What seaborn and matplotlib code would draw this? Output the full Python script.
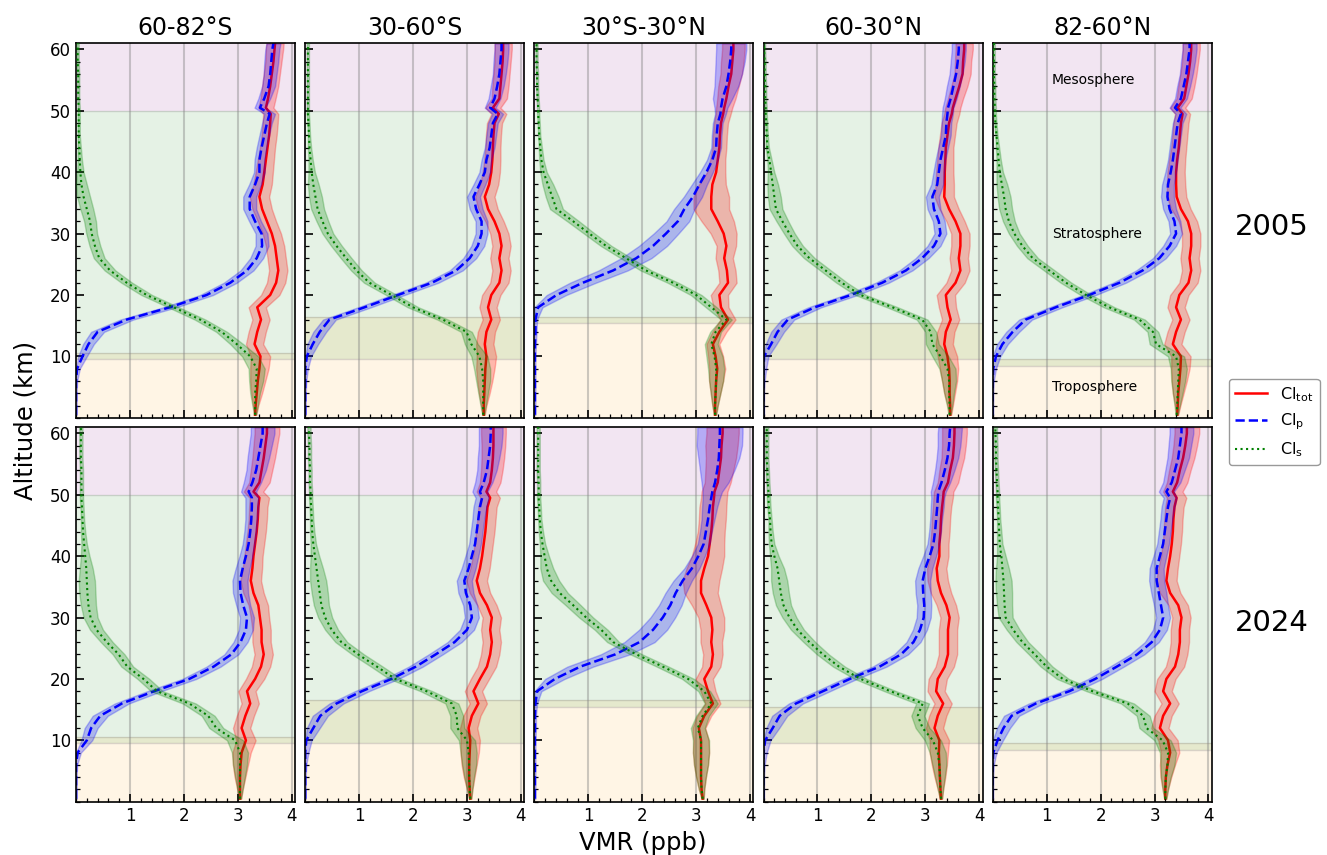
import numpy as np
import matplotlib
matplotlib.use("Agg")
import matplotlib.pyplot as plt
import seaborn as sns
from matplotlib.lines import Line2D
from matplotlib.ticker import MultipleLocator
from matplotlib.colors import to_rgba

plt.rcParams['font.family'] = ['DejaVu Sans']

# ---------------- data ----------------
altitude = [0.5, 2, 4, 6, 8, 10, 12, 14, 16, 18, 20, 22, 24, 26, 28, 30, 32, 34,
            36, 38, 40, 42, 44, 46, 48, 49.5, 50.5, 52, 54, 56, 58, 60, 61]

regions = ['60-82°S', '30-60°S', '30°S-30°N', '60-30°N', '82-60°N']
years = ['2005', '2024']
tropopause_low = [9.5, 9.5, 15.5, 9.5, 8.5]
tropopause_high = [10.5, 16.5, 16.5, 15.5, 9.5]
layer_names = ['Mesosphere', 'Stratosphere', 'Troposphere']
layer_alt = [55, 30, 5]

# 2005
clp_2005_s82 = [0, 0, 0, 0, 0.02, 0.12, 0.23, 0.40, 0.94, 1.74, 2.42, 2.86, 3.17, 3.35, 3.45, 3.44, 3.32, 3.22, 3.22, 3.32, 3.40, 3.40, 3.44, 3.49, 3.54, 3.59, 3.41, 3.49, 3.57, 3.60, 3.62, 3.64, 3.66]
cltot_2005_s82 = [3.32, 3.33, 3.35, 3.37, 3.40, 3.42, 3.31, 3.36, 3.43, 3.36, 3.60, 3.71, 3.75, 3.72, 3.69, 3.63, 3.54, 3.45, 3.40, 3.46, 3.49, 3.52, 3.55, 3.58, 3.60, 3.61, 3.52, 3.56, 3.60, 3.63, 3.66, 3.68, 3.69]
cls_2005_s82 = [3.32, 3.32, 3.32, 3.34, 3.35, 3.23, 2.98, 2.70, 2.30, 1.81, 1.31, 0.94, 0.63, 0.43, 0.35, 0.29, 0.26, 0.20, 0.14, 0.10, 0.08, 0.07, 0.06, 0.05, 0.05, 0.05, 0.05, 0.04, 0.04, 0.04, 0.03, 0.03, 0.03]

clp_2005_s60 = [0, 0, 0, 0, 0, 0.03, 0.14, 0.27, 0.45, 1.10, 1.72, 2.35, 2.80, 3.05, 3.20, 3.27, 3.27, 3.17, 3.12, 3.23, 3.33, 3.36, 3.42, 3.45, 3.48, 3.57, 3.43, 3.51, 3.56, 3.60, 3.62, 3.64, 3.64]
cltot_2005_s60 = [3.31, 3.31, 3.32, 3.33, 3.34, 3.36, 3.33, 3.36, 3.45, 3.39, 3.45, 3.60, 3.64, 3.60, 3.64, 3.60, 3.51, 3.39, 3.33, 3.41, 3.45, 3.47, 3.48, 3.49, 3.51, 3.59, 3.48, 3.60, 3.62, 3.64, 3.66, 3.67, 3.67]
cls_2005_s60 = [3.30, 3.30, 3.30, 3.30, 3.28, 3.23, 3.08, 2.99, 2.55, 2.00, 1.60, 1.19, 0.95, 0.76, 0.58, 0.42, 0.32, 0.23, 0.19, 0.15, 0.12, 0.10, 0.08, 0.07, 0.06, 0.05, 0.05, 0.05, 0.05, 0.05, 0.05, 0.05, 0.05]

clp_2005_eq = [0.01, 0.01, 0.01, 0.01, 0.01, 0.01, 0.01, 0.02, 0.02, 0.07, 0.41, 0.90, 1.46, 1.89, 2.20, 2.44, 2.66, 2.78, 2.94, 3.06, 3.19, 3.30, 3.37, 3.38, 3.40, 3.45, 3.46, 3.49, 3.56, 3.60, 3.63, 3.65, 3.65]
cltot_2005_eq = [3.35, 3.35, 3.36, 3.37, 3.39, 3.36, 3.31, 3.43, 3.59, 3.46, 3.43, 3.59, 3.57, 3.52, 3.56, 3.51, 3.40, 3.28, 3.28, 3.30, 3.37, 3.40, 3.43, 3.44, 3.46, 3.50, 3.52, 3.56, 3.60, 3.65, 3.67, 3.69, 3.69]
cls_2005_eq = [3.35, 3.35, 3.36, 3.37, 3.37, 3.34, 3.28, 3.36, 3.56, 3.28, 3.00, 2.57, 2.07, 1.70, 1.33, 1.02, 0.72, 0.41, 0.33, 0.25, 0.17, 0.13, 0.11, 0.09, 0.08, 0.07, 0.07, 0.06, 0.05, 0.05, 0.04, 0.04, 0.04]

clp_2005_n60 = [0, 0, 0, 0, 0, 0.01, 0.14, 0.26, 0.45, 0.95, 1.62, 2.20, 2.64, 2.94, 3.16, 3.28, 3.25, 3.16, 3.13, 3.22, 3.25, 3.28, 3.33, 3.38, 3.39, 3.41, 3.42, 3.47, 3.52, 3.57, 3.60, 3.62, 3.62]
cltot_2005_n60 = [3.46, 3.46, 3.45, 3.45, 3.44, 3.41, 3.35, 3.38, 3.47, 3.41, 3.38, 3.56, 3.65, 3.62, 3.65, 3.65, 3.56, 3.44, 3.35, 3.36, 3.36, 3.37, 3.38, 3.41, 3.44, 3.49, 3.51, 3.56, 3.63, 3.69, 3.70, 3.72, 3.72]
cls_2005_n60 = [3.45, 3.45, 3.44, 3.44, 3.41, 3.28, 3.13, 3.10, 2.94, 2.39, 1.80, 1.45, 1.15, 0.85, 0.63, 0.48, 0.35, 0.23, 0.20, 0.17, 0.14, 0.11, 0.07, 0.06, 0.05, 0.04, 0.04, 0.03, 0.03, 0.02, 0.02, 0.01, 0.01]

clp_2005_n82 = [0, 0, 0, 0, 0.01, 0.06, 0.18, 0.37, 0.61, 1.17, 1.79, 2.35, 2.78, 3.09, 3.28, 3.40, 3.37, 3.28, 3.24, 3.25, 3.30, 3.34, 3.37, 3.40, 3.43, 3.49, 3.38, 3.49, 3.54, 3.59, 3.62, 3.65, 3.65]
cltot_2005_n82 = [3.42, 3.43, 3.44, 3.46, 3.48, 3.49, 3.34, 3.40, 3.49, 3.40, 3.46, 3.63, 3.68, 3.65, 3.68, 3.68, 3.62, 3.49, 3.41, 3.40, 3.40, 3.42, 3.45, 3.47, 3.49, 3.52, 3.43, 3.55, 3.59, 3.63, 3.66, 3.68, 3.68]
cls_2005_n82 = [3.41, 3.42, 3.43, 3.44, 3.45, 3.40, 3.03, 2.97, 2.72, 2.16, 1.73, 1.36, 1.05, 0.74, 0.55, 0.40, 0.30, 0.24, 0.21, 0.17, 0.13, 0.11, 0.09, 0.07, 0.05, 0.04, 0.04, 0.03, 0.03, 0.02, 0.02, 0.02, 0.02]

# 2024
clp_2024_s82 = [0, 0, 0, 0, 0.03, 0.20, 0.28, 0.45, 0.85, 1.45, 2.10, 2.55, 2.88, 3.05, 3.15, 3.17, 3.10, 3.05, 3.04, 3.09, 3.15, 3.20, 3.23, 3.25, 3.26, 3.26, 3.20, 3.27, 3.34, 3.38, 3.42, 3.46, 3.46]
cltot_2024_s82 = [3.04, 3.04, 3.04, 3.05, 3.07, 3.15, 3.07, 3.14, 3.23, 3.17, 3.32, 3.43, 3.48, 3.44, 3.44, 3.41, 3.38, 3.29, 3.24, 3.27, 3.29, 3.32, 3.35, 3.37, 3.38, 3.40, 3.29, 3.40, 3.44, 3.48, 3.51, 3.54, 3.54]
cls_2024_s82 = [3.04, 3.04, 3.04, 3.04, 3.04, 2.95, 2.60, 2.45, 2.10, 1.50, 1.25, 0.95, 0.79, 0.57, 0.38, 0.27, 0.23, 0.21, 0.20, 0.19, 0.17, 0.15, 0.13, 0.12, 0.11, 0.10, 0.10, 0.10, 0.10, 0.09, 0.09, 0.09, 0.09]

clp_2024_s60 = [0, 0, 0, 0, 0, 0.02, 0.15, 0.28, 0.58, 1.05, 1.60, 2.05, 2.42, 2.77, 3.00, 3.09, 3.06, 2.98, 2.95, 3.03, 3.09, 3.15, 3.18, 3.21, 3.24, 3.28, 3.24, 3.31, 3.37, 3.40, 3.43, 3.44, 3.44]
cltot_2024_s60 = [3.06, 3.05, 3.04, 3.04, 3.05, 3.06, 3.03, 3.09, 3.21, 3.12, 3.24, 3.37, 3.43, 3.46, 3.43, 3.46, 3.37, 3.24, 3.18, 3.24, 3.28, 3.31, 3.34, 3.36, 3.38, 3.43, 3.36, 3.43, 3.46, 3.48, 3.49, 3.49, 3.49]
cls_2024_s60 = [3.06, 3.05, 3.04, 3.04, 3.03, 3.00, 2.82, 2.81, 2.72, 2.25, 1.67, 1.33, 0.98, 0.67, 0.49, 0.37, 0.30, 0.27, 0.24, 0.21, 0.18, 0.15, 0.13, 0.12, 0.11, 0.10, 0.10, 0.09, 0.09, 0.08, 0.08, 0.07, 0.07]

clp_2024_eq = [0.01, 0.01, 0.01, 0.01, 0.01, 0.01, 0.01, 0.01, 0.02, 0.05, 0.38, 0.85, 1.50, 1.95, 2.20, 2.38, 2.52, 2.62, 2.75, 2.92, 3.04, 3.14, 3.18, 3.22, 3.25, 3.28, 3.30, 3.35, 3.39, 3.42, 3.43, 3.44, 3.44]
cltot_2024_eq = [3.12, 3.10, 3.09, 3.09, 3.09, 3.09, 3.05, 3.15, 3.31, 3.22, 3.15, 3.28, 3.31, 3.28, 3.30, 3.28, 3.19, 3.09, 3.09, 3.15, 3.22, 3.25, 3.28, 3.30, 3.31, 3.33, 3.34, 3.40, 3.43, 3.46, 3.47, 3.49, 3.49]
cls_2024_eq = [3.12, 3.10, 3.09, 3.09, 3.09, 3.09, 3.03, 3.12, 3.28, 3.15, 2.85, 2.38, 1.89, 1.46, 1.24, 0.96, 0.72, 0.47, 0.31, 0.23, 0.19, 0.15, 0.12, 0.10, 0.09, 0.08, 0.08, 0.08, 0.07, 0.07, 0.07, 0.07, 0.07]

clp_2024_n60 = [0, 0, 0, 0, 0, 0.03, 0.17, 0.30, 0.60, 1.10, 1.60, 2.15, 2.55, 2.78, 2.90, 2.97, 2.98, 2.96, 2.95, 3.00, 3.08, 3.15, 3.18, 3.20, 3.22, 3.23, 3.24, 3.30, 3.36, 3.41, 3.44, 3.45, 3.46]
cltot_2024_n60 = [3.29, 3.28, 3.27, 3.26, 3.25, 3.26, 3.17, 3.23, 3.33, 3.20, 3.23, 3.36, 3.42, 3.42, 3.42, 3.45, 3.39, 3.29, 3.23, 3.21, 3.26, 3.26, 3.28, 3.29, 3.31, 3.33, 3.34, 3.42, 3.46, 3.51, 3.53, 3.54, 3.54]
cls_2024_n60 = [3.29, 3.28, 3.27, 3.26, 3.23, 3.14, 2.95, 2.86, 2.95, 2.35, 1.80, 1.40, 1.10, 0.85, 0.63, 0.48, 0.37, 0.32, 0.29, 0.26, 0.20, 0.15, 0.13, 0.12, 0.10, 0.09, 0.09, 0.08, 0.07, 0.06, 0.06, 0.06, 0.06]

clp_2024_n82 = [0, 0, 0, 0, 0.01, 0.09, 0.20, 0.35, 0.80, 1.42, 1.90, 2.30, 2.68, 2.95, 3.10, 3.16, 3.12, 3.08, 3.04, 3.04, 3.10, 3.16, 3.19, 3.22, 3.25, 3.29, 3.22, 3.32, 3.38, 3.44, 3.47, 3.50, 3.50]
cltot_2024_n82 = [3.20, 3.20, 3.21, 3.24, 3.29, 3.25, 3.10, 3.16, 3.29, 3.16, 3.22, 3.38, 3.44, 3.47, 3.47, 3.50, 3.44, 3.29, 3.22, 3.25, 3.29, 3.32, 3.34, 3.35, 3.37, 3.41, 3.34, 3.42, 3.47, 3.53, 3.57, 3.60, 3.60]
cls_2024_n82 = [3.20, 3.20, 3.21, 3.24, 3.25, 3.15, 2.85, 2.79, 2.50, 1.85, 1.30, 1.00, 0.78, 0.55, 0.38, 0.24, 0.22, 0.21, 0.20, 0.18, 0.16, 0.13, 0.12, 0.11, 0.10, 0.09, 0.09, 0.08, 0.07, 0.06, 0.06, 0.05, 0.05]

# uncertainty half-widths (ppb)
err_tot_ext_2005 = [0.02, 0.05, 0.10, 0.14, 0.17, 0.18, 0.16, 0.16, 0.16, 0.16, 0.17, 0.17, 0.17, 0.17, 0.17, 0.17, 0.17, 0.18, 0.18, 0.17, 0.16, 0.15, 0.14, 0.14, 0.14, 0.14, 0.14, 0.14, 0.15, 0.15, 0.15, 0.16, 0.16]
err_tot_ext_2024 = [0.02, 0.05, 0.10, 0.14, 0.17, 0.18, 0.16, 0.16, 0.16, 0.16, 0.17, 0.17, 0.17, 0.17, 0.17, 0.17, 0.18, 0.19, 0.19, 0.18, 0.17, 0.17, 0.17, 0.17, 0.17, 0.18, 0.18, 0.19, 0.20, 0.21, 0.22, 0.23, 0.23]
err_tot_trop_2005 = [0.02, 0.05, 0.09, 0.13, 0.15, 0.14, 0.12, 0.13, 0.14, 0.14, 0.16, 0.16, 0.16, 0.16, 0.18, 0.24, 0.30, 0.33, 0.33, 0.25, 0.17, 0.14, 0.13, 0.13, 0.13, 0.14, 0.15, 0.17, 0.19, 0.20, 0.21, 0.21, 0.21]
err_tot_trop_2024 = [0.02, 0.05, 0.09, 0.13, 0.15, 0.14, 0.12, 0.13, 0.14, 0.14, 0.16, 0.17, 0.18, 0.20, 0.22, 0.24, 0.27, 0.31, 0.34, 0.33, 0.30, 0.27, 0.25, 0.25, 0.25, 0.24, 0.24, 0.24, 0.26, 0.28, 0.30, 0.30, 0.30]
err_p_ext_2005 = [0.01, 0.01, 0.01, 0.02, 0.05, 0.08, 0.10, 0.12, 0.12, 0.12, 0.12, 0.12, 0.12, 0.12, 0.12, 0.11, 0.11, 0.12, 0.12, 0.11, 0.10, 0.09, 0.09, 0.09, 0.09, 0.10, 0.10, 0.11, 0.12, 0.12, 0.13, 0.13, 0.13]
err_p_ext_2024 = [0.01, 0.01, 0.01, 0.02, 0.06, 0.10, 0.12, 0.14, 0.13, 0.13, 0.13, 0.13, 0.13, 0.13, 0.13, 0.13, 0.13, 0.14, 0.14, 0.13, 0.12, 0.11, 0.11, 0.11, 0.12, 0.12, 0.14, 0.16, 0.18, 0.20, 0.21, 0.22, 0.22]
err_p_trop_2005 = [0.01, 0.01, 0.01, 0.01, 0.01, 0.01, 0.02, 0.02, 0.03, 0.08, 0.18, 0.24, 0.27, 0.28, 0.26, 0.23, 0.21, 0.19, 0.17, 0.14, 0.12, 0.10, 0.09, 0.09, 0.09, 0.10, 0.12, 0.18, 0.22, 0.25, 0.27, 0.28, 0.28]
err_p_trop_2024 = [0.01, 0.01, 0.01, 0.01, 0.01, 0.01, 0.02, 0.02, 0.03, 0.08, 0.18, 0.24, 0.27, 0.28, 0.26, 0.23, 0.21, 0.19, 0.17, 0.14, 0.12, 0.11, 0.11, 0.12, 0.14, 0.16, 0.18, 0.25, 0.32, 0.38, 0.42, 0.42, 0.42]
err_s_2005 = [0.02, 0.05, 0.09, 0.13, 0.15, 0.15, 0.12, 0.10, 0.10, 0.10, 0.10, 0.10, 0.10, 0.10, 0.10, 0.10, 0.11, 0.12, 0.12, 0.10, 0.06, 0.04, 0.03, 0.02, 0.02, 0.02, 0.02, 0.02, 0.02, 0.02, 0.02, 0.02, 0.02]
err_s_2024 = [0.02, 0.05, 0.09, 0.13, 0.15, 0.15, 0.13, 0.12, 0.12, 0.11, 0.11, 0.11, 0.11, 0.11, 0.12, 0.13, 0.14, 0.15, 0.15, 0.12, 0.08, 0.05, 0.04, 0.03, 0.03, 0.03, 0.03, 0.03, 0.03, 0.03, 0.03, 0.03, 0.03]

profiles = {
    '2005': [(cltot_2005_s82, clp_2005_s82, cls_2005_s82),
             (cltot_2005_s60, clp_2005_s60, cls_2005_s60),
             (cltot_2005_eq, clp_2005_eq, cls_2005_eq),
             (cltot_2005_n60, clp_2005_n60, cls_2005_n60),
             (cltot_2005_n82, clp_2005_n82, cls_2005_n82)],
    '2024': [(cltot_2024_s82, clp_2024_s82, cls_2024_s82),
             (cltot_2024_s60, clp_2024_s60, cls_2024_s60),
             (cltot_2024_eq, clp_2024_eq, cls_2024_eq),
             (cltot_2024_n60, clp_2024_n60, cls_2024_n60),
             (cltot_2024_n82, clp_2024_n82, cls_2024_n82)],
}
errors = {
    ('2005', 'ext'): (err_tot_ext_2005, err_p_ext_2005, err_s_2005),
    ('2024', 'ext'): (err_tot_ext_2024, err_p_ext_2024, err_s_2024),
    ('2005', 'trop'): (err_tot_trop_2005, err_p_trop_2005, err_s_2005),
    ('2024', 'trop'): (err_tot_trop_2024, err_p_trop_2024, err_s_2024),
}

series_style = [
    dict(color='red', ls='-', lw=1.8, label=r'Cl$_{\mathrm{tot}}$'),
    dict(color='blue', ls='--', lw=1.8, label=r'Cl$_{\mathrm{p}}$'),
    dict(color='green', ls=':', lw=1.5, label=r'Cl$_{\mathrm{s}}$'),
]

# ---------------- figure ----------------
fig, axes = plt.subplots(2, 5, figsize=(13.27, 8.55), dpi=100, sharex=True, sharey=True)
fig.subplots_adjust(left=0.0573, right=0.9131, top=0.9494, bottom=0.0623,
                    wspace=0.0466, hspace=0.025)

alt = np.array(altitude)
for r, year in enumerate(years):
    for c, reg in enumerate(regions):
        ax = axes[r, c]
        ax.axhspan(-5, tropopause_high[c], facecolor=to_rgba('orange', 0.1), lw=0, zorder=0)
        ax.axhspan(tropopause_low[c], 50, facecolor=to_rgba('green', 0.1), lw=0, zorder=0)
        ax.axhspan(50, 70, facecolor=to_rgba('purple', 0.1), lw=0, zorder=0)
        for yb in (tropopause_low[c], tropopause_high[c], 50):
            ax.axhline(yb, color='gray', alpha=0.3, lw=1.0, zorder=0.5)
        for xg in (1, 2, 3, 4):
            ax.axvline(xg, color='gray', alpha=0.4, lw=1.5, zorder=0.6)

        kind = 'trop' if c == 2 else 'ext'
        errs = errors[(year, kind)]
        for k, (vals, err, st) in enumerate(zip(profiles[year][c], errs, series_style)):
            v = np.array(vals)
            e = np.array(err)
            ax.fill_betweenx(alt, np.clip(v - e, 0, None), v + e,
                             color=st['color'], alpha=0.25, zorder=1 + k)
            sns.lineplot(x=v, y=alt, ax=ax, orient='y', sort=False, estimator=None,
                         color=st['color'], linestyle=st['ls'], lw=st['lw'],
                         legend=False, zorder=1.5 + k)
        ax.set_xlabel('')
        ax.set_ylabel('')
        ax.set_xlim(0, 4.06)
        ax.set_ylim(0, 61)
        ax.set_xticks([1, 2, 3, 4])
        ax.set_yticks([10, 20, 30, 40, 50, 60])
        ax.xaxis.set_minor_locator(MultipleLocator(0.2))
        ax.yaxis.set_minor_locator(MultipleLocator(2))
        ax.tick_params(which='both', direction='in', top=False, right=False, labelsize=12)
        ax.tick_params(which='major', length=6, width=1.2)
        ax.tick_params(which='minor', length=3, width=0.9)
        for sp in ax.spines.values():
            sp.set_linewidth(1.2)
        if r == 0:
            ax.set_title(reg, fontsize=17, pad=6)

# layer labels in top-right panel
for name, a in zip(layer_names, layer_alt):
    axes[0, 4].text(1.1, a, name, fontsize=10, ha='left', va='center')

fig.text(1272 / 1327, 1 - 227 / 855, years[0], fontsize=21, ha='center', va='center')
fig.text(1272 / 1327, 1 - 623 / 855, years[1], fontsize=21, ha='center', va='center')
fig.text(25 / 1327, 1 - 420 / 855, 'Altitude (km)', rotation=90, fontsize=17.5,
         ha='center', va='center')
fig.text(643 / 1327, 1 - 843 / 855, 'VMR (ppb)', fontsize=17.5, ha='center', va='center')

handles = [Line2D([], [], color=s['color'], linestyle=s['ls'], lw=s['lw']) for s in series_style]
labels = [s['label'] for s in series_style]
fig.legend(handles, labels, loc='center left', bbox_to_anchor=(1229 / 1327, 1 - 422 / 855),
           fontsize=11.5, frameon=True, edgecolor='0.5', borderaxespad=0)

fig.savefig('out.png', dpi=100)
